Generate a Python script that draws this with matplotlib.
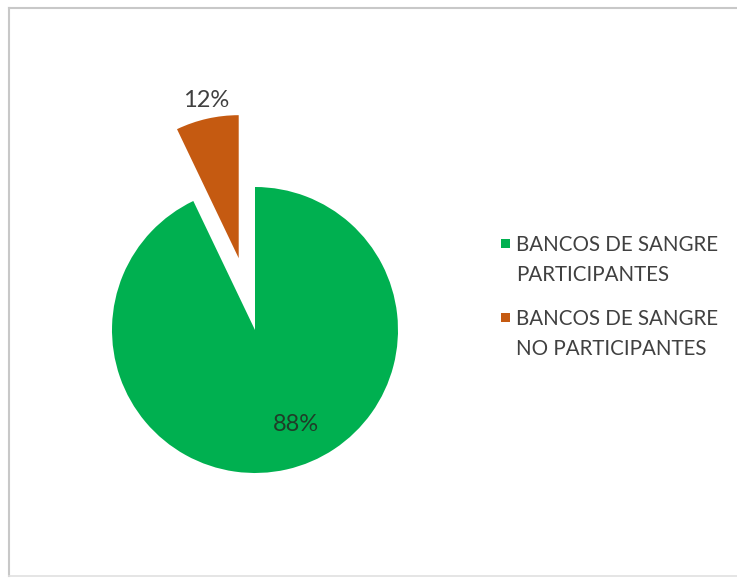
import matplotlib
matplotlib.use("Agg")
import matplotlib.pyplot as plt
import matplotlib.patches as mpatches
from matplotlib.lines import Line2D

# wedge sizes as drawn (the labels printed on the chart are 88% / 12%)
sizes = [92.9, 7.1]
pct_labels = ["88%", "12%"]
legend_labels = ["BANCOS DE SANGRE\nPARTICIPANTES", "BANCOS DE SANGRE\nNO PARTICIPANTES"]
colors = ["#00B050", "#C55A11"]
explode = [0, 0.515]

plt.rcParams["font.family"] = ["Lato", "DejaVu Sans"]

W, H = 737, 578
fig = plt.figure(figsize=[W / 100, H / 100], dpi=100)

# light grey chart frame: left, top and bottom only (right side runs off the image)
fx = [1.2, 9 / W, 9 / W, 1.2]
fy = [1 - 8 / H, 1 - 8 / H, 1 - 576 / H, 1 - 576 / H]
fig.lines.append(Line2D([fx[0], fx[1]], [fy[0], fy[1]], transform=fig.transFigure,
                        color="#C8C8C8", linewidth=1.5))
fig.lines.append(Line2D([fx[1], fx[2]], [fy[1], fy[2]], transform=fig.transFigure,
                        color="#C8C8C8", linewidth=1.5))
fig.lines.append(Line2D([fx[2], fx[3]], [fy[2], fy[3]], transform=fig.transFigure,
                        color="#E0E0E0", linewidth=1.2))

# pie axes: centre at (255, 330) px, radius 143 px
R = 143
cx, cy = 255, 330
half = 1.4 * R
ax = fig.add_axes([(cx - half) / W, (H - cy - half) / H, 2 * half / W, 2 * half / H])
wedges, _ = ax.pie(sizes, colors=colors, explode=explode, startangle=90, counterclock=False,
                   wedgeprops=dict(linewidth=0))
ax.set_xlim(-1.4, 1.4)
ax.set_ylim(-1.4, 1.4)
ax.set_aspect("equal")
ax.axis("off")

ax.text(-0.343, 1.608, pct_labels[1], ha="center", va="center", fontsize=17, color="#404040")
ax.text(0.287, -0.664, pct_labels[0], ha="center", va="center", fontsize=17, color="#1F3D28")

# legend
for i, (lab, col) in enumerate(zip(legend_labels, colors)):
    y = 243 + i * 74
    sq = mpatches.Rectangle((501 / W, 1 - (y + 4.5) / H), 9 / W, 9 / H,
                            transform=fig.transFigure, facecolor=col, edgecolor="none")
    fig.patches.append(sq)
    fig.text(516 / W, 1 - (y - 8) / H, lab, ha="left", va="top", fontsize=14.8,
             color="#404040", linespacing=1.65)

fig.savefig("out.png", dpi=100, facecolor="white")
